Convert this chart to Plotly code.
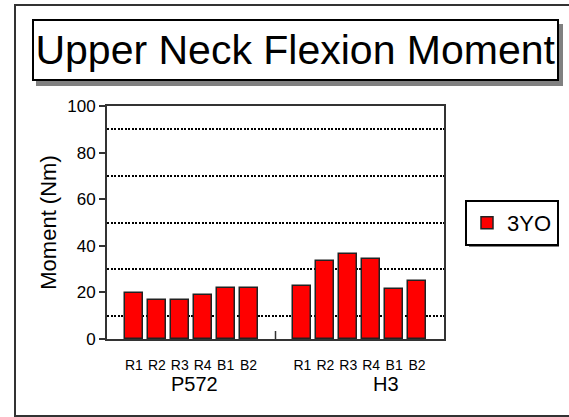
import plotly.graph_objects as go

groups = ["P572", "H3"]
runs = ["R1", "R2", "R3", "R4", "B1", "B2"]
values_p572 = [19.6, 16.7, 16.7, 18.7, 22.0, 22.0]
values_h3 = [22.9, 33.5, 36.3, 34.2, 21.3, 24.8]
series_name = "3YO"
y_ticks = [0, 20, 40, 60, 80, 100]

FONT = "Liberation Sans, Arial, sans-serif"
STEP = 0.136
BAR_W = 0.107

# plot-area geometry (pixels)
W, H = 569, 417
L, R, T, B = 107, 125, 106, 78
PW, PH = W - L - R, H - T - B

def px(x):
    return (x - L) / PW

def py(y):
    return (H - B - y) / PH

xs, ys, tick_vals, tick_text = [], [], [], []
for gi, vals in enumerate([values_p572, values_h3]):
    for ri, v in enumerate(vals):
        pos = gi + (ri - (len(runs) - 1) / 2) * STEP
        xs.append(pos)
        ys.append(v)
        tick_vals.append(pos)
        tick_text.append(runs[ri])

fig = go.Figure()
fig.add_trace(go.Bar(
    x=xs, y=ys, width=BAR_W, name=series_name, showlegend=True,
    marker=dict(color="#ff0000", line=dict(color="#222222", width=1.5)),
))

fig.update_layout(
    width=W, height=H,
    margin=dict(l=L, r=R, t=T, b=B, autoexpand=False),
    paper_bgcolor="white", plot_bgcolor="white",
    font=dict(family=FONT, color="black"),
    bargap=0,
    showlegend=True,
    legend=dict(
        x=px(465), y=py(200), xanchor="left", yanchor="top",
        bgcolor="white", bordercolor="black", borderwidth=2,
        font=dict(size=22, family=FONT),
    ),
)

fig.update_yaxes(
    range=[0, 100], tickvals=y_ticks, ticks="outside", ticklen=6,
    tickcolor="#333333", tickwidth=1.5,
    tickfont=dict(size=17, family=FONT),
    showgrid=False, zeroline=False,
    showline=True, linecolor="#333333", linewidth=2, mirror=True,
    minor=dict(tick0=10, dtick=20, showgrid=True, gridcolor="black",
               griddash="2px,1.5px", gridwidth=2, ticks=""),
    title=dict(text="Moment (Nm)", font=dict(size=22, family=FONT), standoff=5),
)

fig.update_xaxes(
    range=[-0.5, 1.5], tickvals=tick_vals, ticktext=tick_text, ticks="",
    tickfont=dict(size=14, family=FONT), ticklabelstandoff=12,
    showgrid=False, zeroline=False,
    showline=True, linecolor="#333333", linewidth=2, mirror=True,
)

# group labels
for gi, g in enumerate(groups):
    fig.add_annotation(
        x=gi, xref="x", y=0, yref="paper", yshift=-45, yanchor="middle",
        xshift=3 if gi == 0 else 26,
        text=g, showarrow=False, font=dict(size=20, family=FONT),
    )

# title box
fig.add_annotation(
    x=px(295.5), y=py(50), xref="paper", yref="paper",
    xanchor="center", yanchor="middle",
    text="Upper Neck Flexion Moment", showarrow=False,
    font=dict(size=41, family=FONT),
    bgcolor="white", bordercolor="black", borderwidth=2, borderpad=0,
    width=523, height=58,
)

shapes = [
    # outer chart border
    dict(type="rect", xref="paper", yref="paper",
         x0=px(15), x1=px(575), y0=py(416), y1=py(5),
         line=dict(color="#333333", width=2), fillcolor="rgba(0,0,0,0)", layer="below"),
    # title shadow
    dict(type="rect", xref="paper", yref="paper",
         x0=px(36), x1=px(563), y0=py(86), y1=py(24),
         line=dict(width=0), fillcolor="#808080"),
    # legend shadow
    dict(type="rect", xref="paper", yref="paper",
         x0=px(469), x1=px(559), y0=py(247), y1=py(204),
         line=dict(width=0), fillcolor="#808080"),
    # category divider tick
    dict(type="line", xref="x", yref="paper", x0=0.5, x1=0.5,
         ysizemode="pixel", yanchor=0, y0=0, y1=8,
         line=dict(color="#333333", width=1.5)),
]
fig.update_layout(shapes=shapes)

fig.write_html(
    "out.html",
    config={"displayModeBar": False},
    post_script="document.body.style.margin='0';document.body.style.overflow='hidden';",
)
